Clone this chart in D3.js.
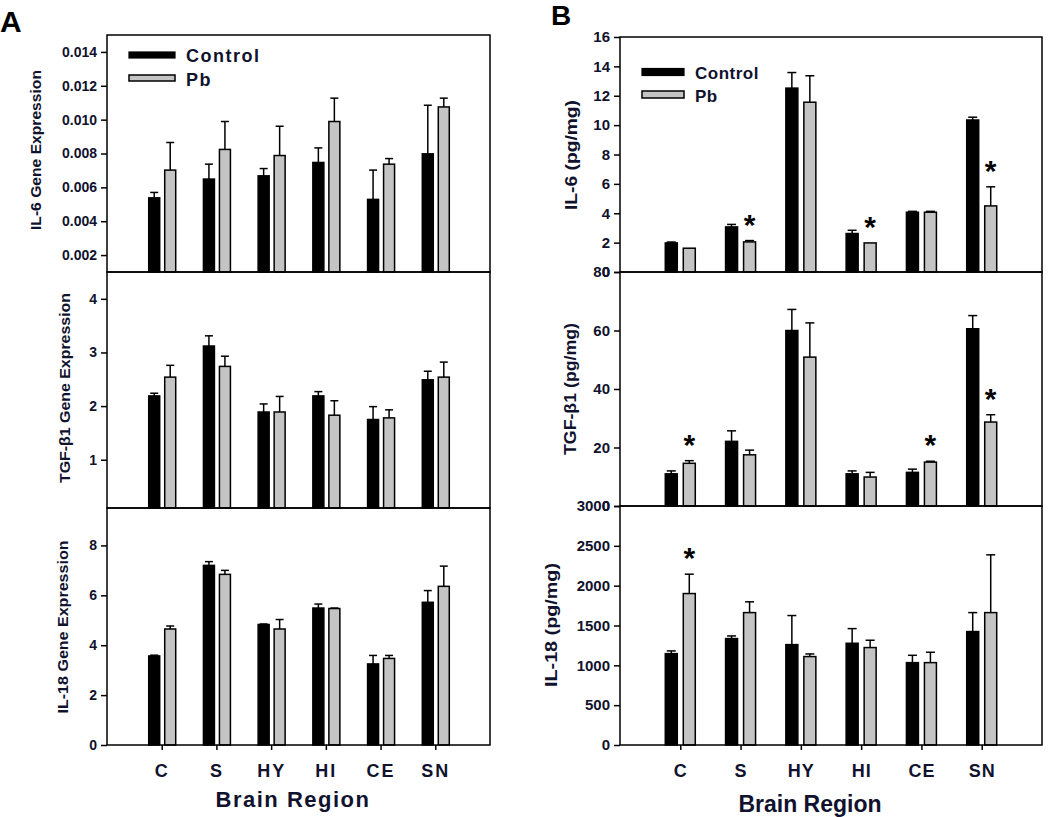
<!DOCTYPE html>
<html><head><meta charset="utf-8">
<script src="https://cdn.jsdelivr.net/npm/d3@7"></script>
<style>
body{margin:0;background:#fff;}
svg text{font-family:Arial,"Liberation Sans",sans-serif;fill:#10122e;}
</style></head>
<body><svg id="chart" width="1050" height="817"></svg>
<script>
// ---------- DATA ----------
const categories = ["C","S","HY","HI","CE","SN"];
const series = ["Control","Pb"];

// Panel A (gene expression)
const aIL6Control    = [0.00538,0.00649,0.00668,0.00747,0.00529,0.00798];
const aIL6ControlErr = [0.00032,0.00088,0.00043,0.00086,0.00173,0.00287];
const aIL6Pb         = [0.00702,0.00824,0.00788,0.00989,0.00737,0.01075];
const aIL6PbErr      = [0.00163,0.00165,0.00173,0.00138,0.00033,0.00052];

const aTGFControl    = [2.19,3.12,1.89,2.19,1.75,2.49];
const aTGFControlErr = [0.05,0.19,0.15,0.08,0.24,0.16];
const aTGFPb         = [2.54,2.74,1.89,1.83,1.78,2.54];
const aTGFPbErr      = [0.22,0.19,0.29,0.27,0.15,0.28];

const aIL18Control    = [3.57,7.20,4.83,5.49,3.25,5.72];
const aIL18ControlErr = [0.03,0.15,0.02,0.16,0.34,0.47];
const aIL18Pb         = [4.65,6.84,4.65,5.47,3.47,6.36];
const aIL18PbErr      = [0.12,0.16,0.38,0.02,0.12,0.81];

// Panel B (protein, pg/mg)
const bIL6Control    = [1.98,3.07,12.52,2.62,4.07,10.35];
const bIL6ControlErr = [0.06,0.17,1.06,0.22,0.06,0.19];
const bIL6Pb         = [1.62,2.05,11.56,1.98,4.07,4.50];
const bIL6PbErr      = [0,0.09,1.80,0,0.06,1.30];
const bIL6Star       = [false,true,false,true,false,true];

const bTGFControl    = [11.0,22.1,60.0,11.0,11.5,60.6];
const bTGFControlErr = [1.0,3.6,7.2,1.0,1.1,4.5];
const bTGFPb         = [14.6,17.5,50.9,9.9,15.0,28.7];
const bTGFPbErr      = [0.9,1.6,11.7,1.6,0.3,2.5];
const bTGFStar       = [true,false,false,false,true,true];

const bIL18Control    = [1147,1336,1260,1277,1034,1424];
const bIL18ControlErr = [34,33,365,184,92,238];
const bIL18Pb         = [1901,1662,1110,1223,1034,1662];
const bIL18PbErr      = [243,135,33,92,130,725];
const bIL18Star       = [true,false,false,false,false,false];

// ticks
const aIL6Ticks  = [0.002,0.004,0.006,0.008,0.010,0.012,0.014];
const aTGFTicks  = [1,2,3,4];
const aIL18Ticks = [0,2,4,6,8];
const bIL6Ticks  = [0,2,4,6,8,10,12,14,16];
const bTGFTicks  = [0,20,40,60,80];
const bIL18Ticks = [0,500,1000,1500,2000,2500,3000];

// ---------- DRAW ----------
const svg = d3.select("#chart");
const PB_FILL = "#c4c4c4";

function panel(o){
  const x = d3.scalePoint().domain(categories).range([o.x0,o.x1]).padding(1);
  const inner = d3.scaleBand().domain(series).range(o.inner).paddingInner(o.pad);
  const y = d3.scaleLinear().domain(o.domain).range([o.y1,o.y0]);
  const g = svg.append("g");
  const base = y(o.domain[0]);
  const sets = [
    {s:"Control", v:o.c, e:o.ce, fill:"#000"},
    {s:"Pb", v:o.p, e:o.pe, fill:PB_FILL}
  ];
  sets.forEach(st=>{
    const data = categories.map((c,i)=>({c, v:st.v[i], e:st.e[i], i}));
    const eg = g.append("g");
    data.filter(d=>d.e>0).forEach(d=>{
      const cx = x(d.c)+inner(st.s)+inner.bandwidth()/2;
      eg.append("line").attr("x1",cx).attr("x2",cx).attr("y1",y(d.v)).attr("y2",y(d.v+d.e))
        .attr("stroke","#000").attr("stroke-width",1.5);
      eg.append("line").attr("x1",cx-o.cap/2).attr("x2",cx+o.cap/2).attr("y1",y(d.v+d.e)).attr("y2",y(d.v+d.e))
        .attr("stroke","#000").attr("stroke-width",1.5);
    });
    g.append("g").selectAll("rect").data(data).join("rect")
      .attr("x",d=>x(d.c)+inner(st.s)).attr("width",inner.bandwidth())
      .attr("y",d=>y(d.v)).attr("height",d=>base-y(d.v))
      .attr("fill",st.fill).attr("stroke","#000").attr("stroke-width",1.5);
    if(st.s==="Pb" && o.star){
      g.append("g").selectAll("text").data(data.filter(d=>o.star[d.i])).join("text")
        .attr("x",d=>x(d.c)+inner(st.s)+inner.bandwidth()/2)
        .attr("y",d=>y(d.v+d.e)-o.starGap)
        .attr("text-anchor","middle").attr("font-size",30).attr("font-weight","bold")
        .style("fill","#000").text("*");
    }
  });
  g.append("rect").attr("x",o.x0).attr("y",o.y0).attr("width",o.x1-o.x0).attr("height",o.y1-o.y0)
    .attr("fill","none").attr("stroke","#000").attr("stroke-width",1.5);
  const ya = g.append("g").attr("transform",`translate(${o.x0},0)`)
    .call(d3.axisLeft(y).tickValues(o.ticks).tickSize(6).tickPadding(4).tickFormat(o.fmt));
  ya.select(".domain").remove();
  ya.selectAll(".tick line").attr("stroke","#000").attr("stroke-width",1.5);
  ya.selectAll(".tick text").attr("font-size",o.tickFont).attr("font-weight","bold")
    .attr("font-family","Arial, 'Liberation Sans', sans-serif").style("fill","#10122e");
  g.append("text").attr("transform",`translate(${o.tx},${o.ty}) rotate(-90)`)
    .attr("text-anchor","middle").attr("font-weight","bold").attr("font-size",o.titleFont)
    .attr("textLength",o.titleLen).attr("lengthAdjust","spacingAndGlyphs")
    .text(o.title);
  if(o.xaxis){
    const xa = g.append("g").attr("transform",`translate(0,${o.y1})`)
      .call(d3.axisBottom(x).tickSize(5).tickPadding(14));
    xa.select(".domain").remove();
    xa.selectAll(".tick line").attr("stroke","#000").attr("stroke-width",1.5);
    xa.selectAll(".tick text").attr("font-size",18).attr("font-weight","bold")
      .attr("letter-spacing",o.xls).attr("font-family","Arial, 'Liberation Sans', sans-serif")
      .style("fill","#10122e");
  }
  return {x,y};
}

const A = {x0:107, x1:490, inner:[-13,14], pad:0.3125, cap:8, tickFont:14, xls:"2px"};
const B = {x0:620, x1:1042, inner:[-15,15], pad:0.3333, cap:9, tickFont:15, xls:"1px", starGap:6};

panel({...A, y0:35, y1:272, domain:[0.001,0.015], ticks:aIL6Ticks, fmt:d3.format(".3f"),
  c:aIL6Control, ce:aIL6ControlErr, p:aIL6Pb, pe:aIL6PbErr,
  title:"IL-6 Gene Expression", tx:41, ty:150, titleFont:14, titleLen:160});
panel({...A, y0:272, y1:508, domain:[0.1,4.5], ticks:aTGFTicks, fmt:d3.format("d"),
  c:aTGFControl, ce:aTGFControlErr, p:aTGFPb, pe:aTGFPbErr,
  title:"TGF-β1 Gene Expression", tx:70, ty:388, titleFont:14, titleLen:190});
panel({...A, y0:508, y1:745, domain:[0,9.5], ticks:aIL18Ticks, fmt:d3.format("d"),
  c:aIL18Control, ce:aIL18ControlErr, p:aIL18Pb, pe:aIL18PbErr,
  title:"IL-18 Gene Expression", tx:68, ty:627, titleFont:14, titleLen:173, xaxis:true});

panel({...B, y0:37, y1:272, domain:[0,16], ticks:bIL6Ticks, fmt:d3.format("d"),
  c:bIL6Control, ce:bIL6ControlErr, p:bIL6Pb, pe:bIL6PbErr, star:bIL6Star,
  title:"IL-6  (pg/mg)", tx:577, ty:155, titleFont:16, titleLen:110});
panel({...B, y0:272, y1:506, domain:[0,80], ticks:bTGFTicks, fmt:d3.format("d"),
  c:bTGFControl, ce:bTGFControlErr, p:bTGFPb, pe:bTGFPbErr, star:bTGFStar,
  title:"TGF-β1 (pg/mg)", tx:576, ty:389, titleFont:16, titleLen:132});
panel({...B, y0:506, y1:745, domain:[0,3000], ticks:bIL18Ticks, fmt:d3.format("d"),
  c:bIL18Control, ce:bIL18ControlErr, p:bIL18Pb, pe:bIL18PbErr, star:bIL18Star,
  title:"IL-18  (pg/mg)", tx:557, ty:625, titleFont:16, titleLen:124, xaxis:true});

svg.append("text").attr("x",293).attr("y",807).attr("text-anchor","middle")
  .attr("font-size",22).attr("font-weight","bold").attr("letter-spacing","1.5px").text("Brain Region");
svg.append("text").attr("x",810).attr("y",812).attr("text-anchor","middle")
  .attr("font-size",23).attr("font-weight","bold").text("Brain Region");

svg.append("text").attr("x",0).attr("y",32).attr("font-size",30).attr("font-weight","bold").style("fill","#000").text("A");
svg.append("text").attr("x",551).attr("y",25).attr("font-size",28).attr("font-weight","bold").style("fill","#000").text("B");

function legend(x,yC,yP,w,h,tx,tC,tP,fs,ls){
  const lg = svg.append("g");
  lg.append("rect").attr("x",x).attr("y",yC).attr("width",w).attr("height",h).attr("fill","#000").attr("stroke","#000").attr("stroke-width",1.2);
  lg.append("rect").attr("x",x).attr("y",yP).attr("width",w).attr("height",h).attr("fill",PB_FILL).attr("stroke","#000").attr("stroke-width",1.5);
  lg.append("text").attr("x",tx).attr("y",tC).attr("font-size",fs).attr("font-weight","bold").attr("letter-spacing",ls).text(series[0]);
  lg.append("text").attr("x",tx).attr("y",tP).attr("font-size",fs).attr("font-weight","bold").attr("letter-spacing",ls).text(series[1]);
}
legend(129,52,75,46,6,186,62,86,18,"1.5px");
legend(642,68.5,91,42,7,695,78.5,101.5,17,"0.5px");
</script></body></html>
